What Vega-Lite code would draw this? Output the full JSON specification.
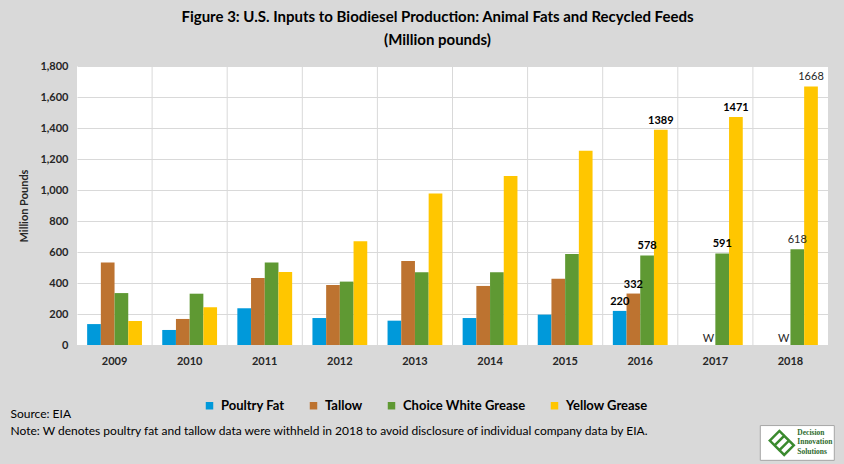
{
  "$schema": "https://vega.github.io/schema/vega-lite/v6.json",
  "width": 751,
  "height": 279,
  "autosize": {"type": "none"},
  "padding": {"left": 77, "top": 66, "right": 16, "bottom": 119},
  "background": "#d9d9d9",
  "title": {
    "text": ["Figure 3: U.S. Inputs to Biodiesel Production: Animal Fats and Recycled Feeds", "(Million pounds)"],
    "font": "Lato",
    "fontSize": 15,
    "fontWeight": "bold",
    "color": "#000000",
    "lineHeight": 23,
    "anchor": "middle",
    "dx": -15,
    "offset": 12
  },
  "config": {
    "font": "Lato",
    "view": {"fill": "#ffffff", "stroke": null},
    "axisY": {
      "labelExpr": "format(datum.value, ',')",
      "labelOverlap": false,
      "labelFontWeight": "bold",
      "labelFontSize": 11,
      "labelColor": "#262626",
      "labelPadding": 9,
      "domain": false,
      "ticks": false,
      "grid": true,
      "gridColor": "#d9d9d9",
      "gridWidth": 1,
      "titleFontSize": 11,
      "titleFontWeight": "bold",
      "titleColor": "#262626",
      "titlePadding": 10
    }
  },
  "data": {
    "values": [
      {"year": "2009", "type": "Poultry Fat", "value": 135},
      {"year": "2009", "type": "Tallow", "value": 533},
      {"year": "2009", "type": "Choice White Grease", "value": 335},
      {"year": "2009", "type": "Yellow Grease", "value": 155},
      {"year": "2010", "type": "Poultry Fat", "value": 97},
      {"year": "2010", "type": "Tallow", "value": 168},
      {"year": "2010", "type": "Choice White Grease", "value": 331},
      {"year": "2010", "type": "Yellow Grease", "value": 243},
      {"year": "2011", "type": "Poultry Fat", "value": 237},
      {"year": "2011", "type": "Tallow", "value": 432},
      {"year": "2011", "type": "Choice White Grease", "value": 533},
      {"year": "2011", "type": "Yellow Grease", "value": 471},
      {"year": "2012", "type": "Poultry Fat", "value": 174},
      {"year": "2012", "type": "Tallow", "value": 387},
      {"year": "2012", "type": "Choice White Grease", "value": 409},
      {"year": "2012", "type": "Yellow Grease", "value": 669},
      {"year": "2013", "type": "Poultry Fat", "value": 157},
      {"year": "2013", "type": "Tallow", "value": 542},
      {"year": "2013", "type": "Choice White Grease", "value": 469},
      {"year": "2013", "type": "Yellow Grease", "value": 978},
      {"year": "2014", "type": "Poultry Fat", "value": 174},
      {"year": "2014", "type": "Tallow", "value": 381},
      {"year": "2014", "type": "Choice White Grease", "value": 469},
      {"year": "2014", "type": "Yellow Grease", "value": 1090},
      {"year": "2015", "type": "Poultry Fat", "value": 196},
      {"year": "2015", "type": "Tallow", "value": 428},
      {"year": "2015", "type": "Choice White Grease", "value": 587},
      {"year": "2015", "type": "Yellow Grease", "value": 1254},
      {"year": "2016", "type": "Poultry Fat", "value": 220, "label": "220"},
      {"year": "2016", "type": "Tallow", "value": 332, "label": "332"},
      {"year": "2016", "type": "Choice White Grease", "value": 578, "label": "578"},
      {"year": "2016", "type": "Yellow Grease", "value": 1389, "label": "1389"},
      {"year": "2017", "type": "Poultry Fat", "value": null},
      {"year": "2017", "type": "Tallow", "value": null, "label": "W"},
      {"year": "2017", "type": "Choice White Grease", "value": 591, "label": "591"},
      {"year": "2017", "type": "Yellow Grease", "value": 1471, "label": "1471"},
      {"year": "2018", "type": "Poultry Fat", "value": null},
      {"year": "2018", "type": "Tallow", "value": null, "label": "W"},
      {"year": "2018", "type": "Choice White Grease", "value": 618, "label": "618"},
      {"year": "2018", "type": "Yellow Grease", "value": 1668, "label": "1668"}
    ]
  },
  "encoding": {
    "x": {
      "field": "year",
      "type": "ordinal",
      "scale": {"paddingInner": 0, "paddingOuter": 0},
      "axis": {
        "labelAngle": 0,
        "labelFontWeight": "bold",
        "labelFontSize": 11,
        "labelColor": "#262626",
        "labelPadding": 10,
        "ticks": false,
        "domain": true,
        "domainColor": "#d9d9d9",
        "grid": false,
        "title": ["Source: EIA", "Note: W denotes poultry fat and tallow data were withheld in 2018 to avoid disclosure of individual company data by EIA."],
        "titleFontWeight": "normal",
        "titleFontSize": 12,
        "titleColor": "#000000",
        "titleAnchor": "start",
        "titleAlign": "left",
        "titleBaseline": "top",
        "titleLineHeight": 17,
        "titleX": -67,
        "titleY": 63
      }
    }
  },
  "layer": [
    {
      "transform": [{"filter": "datum.type == 'Poultry Fat' && datum.year != '2009'"}],
      "mark": {"type": "rule", "color": "#d9d9d9", "strokeWidth": 1},
      "encoding": {
        "x": {"field": "year", "type": "ordinal", "bandPosition": 0}
      }
    },
    {
      "mark": {"type": "bar"},
      "encoding": {
        "xOffset": {
          "field": "type",
          "type": "nominal",
          "sort": ["Poultry Fat", "Tallow", "Choice White Grease", "Yellow Grease"],
          "scale": {"paddingOuter": 0.74, "paddingInner": 0}
        },
        "y": {
          "field": "value",
          "type": "quantitative",
          "scale": {"domain": [0, 1800], "nice": false},
          "axis": {"values": [0, 200, 400, 600, 800, 1000, 1200, 1400, 1600, 1800], "title": "Million Pounds"}
        },
        "color": {
          "field": "type",
          "type": "nominal",
          "scale": {
            "domain": ["Poultry Fat", "Tallow", "Choice White Grease", "Yellow Grease"],
            "range": ["#0099da", "#bd7330", "#5f9933", "#ffc600"]
          },
          "legend": {
            "orient": "none",
            "legendX": 126,
            "legendY": 333,
            "direction": "horizontal",
            "title": null,
            "symbolType": "square",
            "symbolSize": 56,
            "symbolStrokeWidth": 0,
            "labelFontSize": 13,
            "labelFontWeight": "bold",
            "labelColor": "#000000",
            "labelOffset": 5,
            "columnPadding": 22
          }
        }
      }
    },
    {
      "transform": [{"filter": "datum.label != null && datum.value != null && datum.year != '2018'"}],
      "mark": {"type": "text", "baseline": "bottom", "dy": -4, "fontSize": 11, "fontWeight": "bold", "color": "#000000"},
      "encoding": {
        "xOffset": {"field": "type", "type": "nominal", "sort": ["Poultry Fat", "Tallow", "Choice White Grease", "Yellow Grease"]},
        "y": {"field": "value", "type": "quantitative", "axis": {"values": [0, 200, 400, 600, 800, 1000, 1200, 1400, 1600, 1800], "title": "Million Pounds"}},
        "text": {"field": "label"}
      }
    },
    {
      "transform": [{"filter": "datum.label != null && datum.value != null && datum.year == '2018'"}],
      "mark": {"type": "text", "baseline": "bottom", "dy": -4, "fontSize": 11, "fontWeight": "normal", "color": "#262626"},
      "encoding": {
        "xOffset": {"field": "type", "type": "nominal", "sort": ["Poultry Fat", "Tallow", "Choice White Grease", "Yellow Grease"]},
        "y": {"field": "value", "type": "quantitative", "axis": {"values": [0, 200, 400, 600, 800, 1000, 1200, 1400, 1600, 1800], "title": "Million Pounds"}},
        "text": {"field": "label"}
      }
    },
    {
      "transform": [{"filter": "datum.label == 'W'"}],
      "mark": {"type": "text", "baseline": "bottom", "dy": -1, "fontSize": 11, "fontWeight": "normal", "color": "#262626"},
      "encoding": {
        "xOffset": {"field": "type", "type": "nominal", "sort": ["Poultry Fat", "Tallow", "Choice White Grease", "Yellow Grease"]},
        "y": {"datum": 0, "type": "quantitative", "axis": {"values": [0, 200, 400, 600, 800, 1000, 1200, 1400, 1600, 1800], "title": "Million Pounds"}},
        "text": {"field": "label"}
      }
    },
    {
      "data": {"values": [{"logo": "Decision Innovation Solutions"}]},
      "layer": [
        {
          "mark": {"type": "point", "shape": "M-1,-0.47H1V0.47H-1Z", "size": 5476, "filled": true, "fill": "#ffffff", "stroke": "#a6a6a6", "strokeWidth": 1, "opacity": 1},
          "encoding": {
            "x": {"datum": "2018"},
            "xOffset": {"datum": "Choice White Grease"},
            "y": {"datum": -632, "type": "quantitative", "axis": {"values": [0, 200, 400, 600, 800, 1000, 1200, 1400, 1600, 1800], "title": "Million Pounds"}}
          }
        },
        {
          "mark": {"type": "point", "shape": "M-1.15,-0.2L-0.35,-1L0.45,-0.2L-0.35,0.6ZM-0.75,0.2L0.05,-0.6L0.85,0.2L0.05,1Z", "size": 576, "filled": false, "stroke": "#3a8a2e", "strokeWidth": 2.5, "opacity": 1},
          "encoding": {
            "x": {"datum": "2018"},
            "xOffset": {"datum": "Tallow"},
            "y": {"datum": -632, "type": "quantitative", "axis": {"values": [0, 200, 400, 600, 800, 1000, 1200, 1400, 1600, 1800], "title": "Million Pounds"}}
          }
        },
        {
          "mark": {"type": "text", "text": ["Decision", "Innovation", "Solutions"], "align": "left", "baseline": "middle", "dx": 0, "dy": -10, "font": "Liberation Serif", "fontWeight": "bold", "fontSize": 7.5, "lineHeight": 9.5, "color": "#2e6b2e"},
          "encoding": {
            "x": {"datum": "2018"},
            "xOffset": {"datum": "Choice White Grease"},
            "y": {"datum": -632, "type": "quantitative", "axis": {"values": [0, 200, 400, 600, 800, 1000, 1200, 1400, 1600, 1800], "title": "Million Pounds"}}
          }
        }
      ]
    }
  ]
}
